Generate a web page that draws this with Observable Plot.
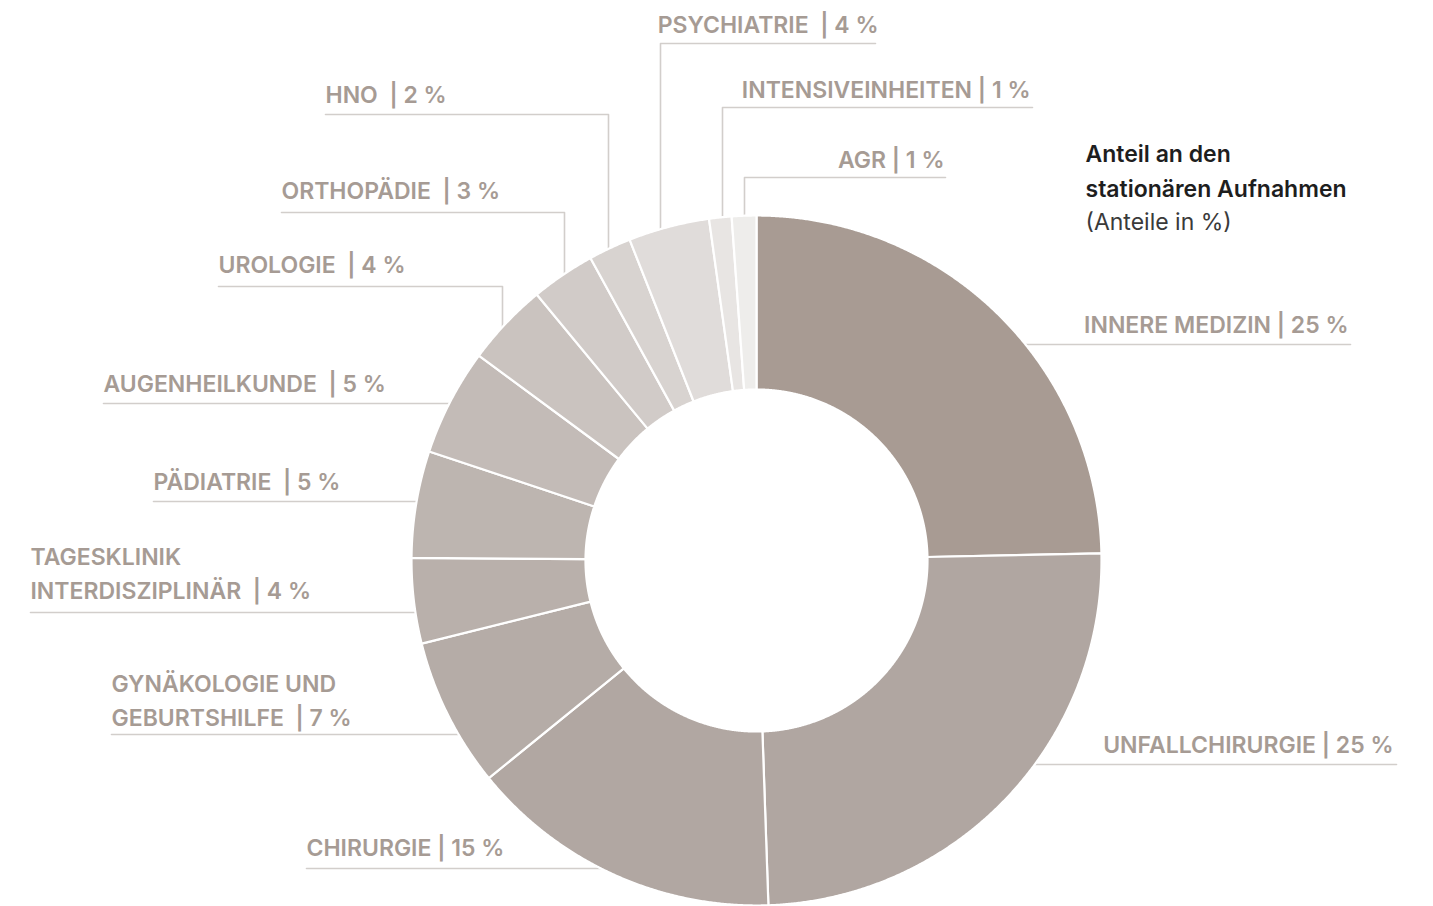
<!DOCTYPE html>
<html><head><meta charset="utf-8">
<script src="https://cdn.jsdelivr.net/npm/d3@7"></script>
<script src="https://cdn.jsdelivr.net/npm/@observablehq/plot@0.6"></script>
<style>html,body{margin:0;padding:0;background:#fff}#chart svg{display:block}</style>
</head><body><div id="chart"></div>
<script>
// ---- data (clockwise from 12 o'clock) ----
const departments = ["Innere Medizin","Unfallchirurgie","Chirurgie","Gynäkologie und Geburtshilfe","Tagesklinik interdisziplinär","Pädiatrie","Augenheilkunde","Urologie","Orthopädie","HNO","Psychiatrie","Intensiveinheiten","AGR"];
const shares = [24.7, 24.8, 14.7, 7.0, 4.0, 5.0, 5.0, 3.9, 3.0, 2.0, 3.8, 1.05, 1.15];
const labelTexts = [
  "INNERE MEDIZIN | 25 %",
  "UNFALLCHIRURGIE | 25 %",
  "CHIRURGIE | 15 %",
  "GYNÄKOLOGIE UND\nGEBURTSHILFE\u00a0 | 7 %",
  "TAGESKLINIK\nINTERDISZIPLINÄR\u00a0 | 4 %",
  "PÄDIATRIE\u00a0 | 5 %",
  "AUGENHEILKUNDE\u00a0 | 5 %",
  "UROLOGIE\u00a0 | 4 %",
  "ORTHOPÄDIE\u00a0 | 3 %",
  "HNO\u00a0 | 2 %",
  "PSYCHIATRIE\u00a0 | 4 %",
  "INTENSIVEINHEITEN | 1 %",
  "AGR | 1 %"
];
const sliceColors = ["#a89b93","#b0a6a1","#b1a7a2","#b5aca7","#b9b0ab","#bdb5b0","#c3bbb7","#cac3bf","#d1cbc8","#d8d3d0","#e0dcda","#e8e5e3","#eeedeb"];
const titleLines = ["Anteil an den", "stationären Aufnahmen"];
const subtitleText = "(Anteile in %)";

// ---- layout (pixels) ----
const W = 1433, H = 906;
const CX = 756, CY = 560, R_OUT = 345, R_IN = 171;
const labelLayout = [
  {anchor:"end",   tx:1348, ty:332, ly:344, kind:"right", lx1:1350},
  {anchor:"end",   tx:1393, ty:752, ly:764, kind:"right", lx1:1396},
  {anchor:"start", tx:306,  ty:855, ly:868, kind:"left",  lx0:306},
  {anchor:"start", tx:111,  ty:725, ly:734, kind:"left",  lx0:111},
  {anchor:"start", tx:30,   ty:598, ly:612, kind:"left",  lx0:30},
  {anchor:"start", tx:153,  ty:489, ly:501, kind:"left",  lx0:153},
  {anchor:"start", tx:103,  ty:391, ly:403, kind:"left",  lx0:103},
  {anchor:"start", tx:218,  ty:272, ly:286, kind:"top",   lx0:218, lx1:502, vx:502},
  {anchor:"start", tx:281,  ty:198, ly:212, kind:"top",   lx0:281, lx1:564, vx:564},
  {anchor:"start", tx:325,  ty:102, ly:114, kind:"top",   lx0:325, lx1:608, vx:608},
  {anchor:"end",   tx:878,  ty:32,  ly:43,  kind:"top",   lx0:660, lx1:875, vx:660},
  {anchor:"end",   tx:1030, ty:97,  ly:107, kind:"top",   lx0:722, lx1:1032, vx:722},
  {anchor:"end",   tx:944,  ty:167, ly:177, kind:"top",   lx0:744, lx1:945, vx:744}
];

// ---- slices as closed polygons from d3.pie angles ----
const arcs = d3.pie().sort(null).value(d => d)(shares);
const slicePts = [];
arcs.forEach((a, i) => {
  const n = Math.max(4, Math.ceil((a.endAngle - a.startAngle) / 0.004));
  const pts = [];
  for (let k = 0; k <= n; k++) {
    const t = a.startAngle + (a.endAngle - a.startAngle) * k / n;
    pts.push([CX + R_OUT * Math.sin(t), CY - R_OUT * Math.cos(t)]);
  }
  for (let k = n; k >= 0; k--) {
    const t = a.startAngle + (a.endAngle - a.startAngle) * k / n;
    pts.push([CX + R_IN * Math.sin(t), CY - R_IN * Math.cos(t)]);
  }
  pts.push(pts[0]);
  pts.forEach(([x, y]) => slicePts.push({dept: departments[i], x, y}));
});

// ---- leader lines ----
const RL = R_OUT - 6;
const leaderPts = [];
labelLayout.forEach((L, i) => {
  const id = departments[i];
  if (L.kind === "right") {
    const xa = CX + Math.sqrt(RL * RL - (L.ly - CY) ** 2);
    leaderPts.push({id, x: xa, y: L.ly}, {id, x: L.lx1, y: L.ly});
  } else if (L.kind === "left") {
    const xa = CX - Math.sqrt(RL * RL - (L.ly - CY) ** 2);
    leaderPts.push({id, x: L.lx0, y: L.ly}, {id, x: xa, y: L.ly});
  } else {
    const ya = CY - Math.sqrt(RL * RL - (L.vx - CX) ** 2);
    if (L.vx === L.lx1) {
      leaderPts.push({id, x: L.lx0, y: L.ly}, {id, x: L.vx, y: L.ly}, {id, x: L.vx, y: ya});
    } else {
      leaderPts.push({id, x: L.lx1, y: L.ly}, {id, x: L.vx, y: L.ly}, {id, x: L.vx, y: ya});
    }
  }
});

const labels = labelLayout.map((L, i) => ({text: labelTexts[i], x: L.tx, y: L.ty, anchor: L.anchor}));
const textOpts = {x: "x", y: "y", text: "text", fill: "#a69b94", fontSize: 23, fontWeight: 600, fontFamily: "Inter", lineAnchor: "bottom", lineHeight: 1.47};

const chart = Plot.plot({
  width: W, height: H, margin: 0,
  x: {domain: [0, W], range: [0, W], axis: null},
  y: {domain: [0, H], range: [0, H], axis: null},
  color: {domain: departments, range: sliceColors},
  style: {fontFamily: "Inter", background: "#fff"},
  marks: [
    Plot.line(leaderPts, {x: "x", y: "y", z: "id", stroke: "#d2cecb", strokeWidth: 1.6}),
    Plot.line(slicePts, {x: "x", y: "y", z: "dept", fill: "dept", stroke: "#fff", strokeWidth: 2.2, strokeLinejoin: "round"}),
    Plot.text(labels.filter(d => d.anchor === "start"), {...textOpts, textAnchor: "start"}),
    Plot.text(labels.filter(d => d.anchor === "end"), {...textOpts, textAnchor: "end"}),
    Plot.text([titleLines.join("\n")], {x: () => 1085, y: () => 196, text: d => d, textAnchor: "start", lineAnchor: "bottom", lineHeight: 1.48, fill: "#1e1e1e", fontSize: 23, fontWeight: 600, fontFamily: "Inter"}),
    Plot.text([subtitleText], {x: () => 1085, y: () => 229, text: d => d, textAnchor: "start", lineAnchor: "bottom", fill: "#3a3a3a", fontSize: 23, fontWeight: 400, fontFamily: "Inter"})
  ]
});
document.getElementById("chart").append(chart);
</script>
</body></html>
